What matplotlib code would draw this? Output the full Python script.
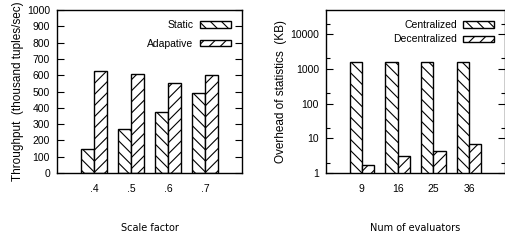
import numpy as np
import matplotlib
matplotlib.use('Agg')
import matplotlib.pyplot as plt
from matplotlib.ticker import LogLocator, NullFormatter, FixedLocator

plt.rcParams['hatch.linewidth'] = 0.8

# left chart: throughput vs scale factor
scale_labels = ['.4', '.5', '.6', '.7']
static_vals = [147, 268, 373, 490]
adaptive_vals = [626, 605, 552, 604]

# right chart: statistics overhead vs number of evaluators
eval_labels = ['9', '16', '25', '36']
central_vals = [1620, 1620, 1620, 1620]
decentral_vals = [1.65, 3.0, 4.2, 6.8]

tick_font = 'Liberation Sans'
w = 0.34
hatch_a = '\\' * 3
hatch_b = '/' * 3

fig = plt.figure(figsize=(5.06, 2.41), dpi=100)
ax1 = fig.add_axes([57/506, 68/241, 185/506, 163/241])
ax2 = fig.add_axes([326/506, 68/241, 179/506, 163/241])

x = np.arange(len(scale_labels))
ax1.bar(x - w/2, static_vals, w, color='white', edgecolor='black', hatch=hatch_a, linewidth=1, label='Static')
ax1.bar(x + w/2, adaptive_vals, w, color='white', edgecolor='black', hatch=hatch_b, linewidth=1, label='Adapative')
ax1.set_xlim(-1, 4)
ax1.set_ylim(0, 1000)
ax1.set_yticks(range(0, 1001, 100))
ax1.set_xticks(x)
ax1.set_xticklabels(scale_labels)
ax1.set_ylabel('Throughput  (thousand tuples/sec)', fontsize=8.5, family=tick_font, labelpad=2)
ax1.set_xlabel('Scale factor', fontsize=7, labelpad=21)
ax1.legend(loc='upper right', bbox_to_anchor=(0.975, 0.975), frameon=False, markerfirst=False,
           prop={'family': tick_font, 'size': 7.5}, handlelength=3.0, handleheight=0.6,
           labelspacing=0.8, handletextpad=0.6, borderaxespad=0.2)

x2 = np.arange(len(eval_labels))
ax2.bar(x2 - w/2, central_vals, w, color='white', edgecolor='black', hatch=hatch_a, linewidth=1, label='Centralized')
ax2.bar(x2 + w/2, decentral_vals, w, color='white', edgecolor='black', hatch=hatch_b, linewidth=1, label='Decentralized')
ax2.set_yscale('log')
ax2.set_xlim(-1, 4)
ax2.set_ylim(1, 50000)
ax2.yaxis.set_major_locator(FixedLocator([1, 10, 100, 1000, 10000]))
ax2.set_yticklabels(['1', '10', '100', '1000', '10000'])
ax2.yaxis.set_minor_locator(LogLocator(base=10, subs=(2.0,)))
ax2.yaxis.set_minor_formatter(NullFormatter())
ax2.set_xticks(x2)
ax2.set_xticklabels(eval_labels)
ax2.set_ylabel('Overhead of statistics  (KB)', fontsize=8.5, family=tick_font, labelpad=2)
ax2.set_xlabel('Num of evaluators', fontsize=7, labelpad=21)
ax2.legend(loc='upper right', bbox_to_anchor=(0.975, 0.975), frameon=False, markerfirst=False,
           prop={'family': tick_font, 'size': 7.5}, handlelength=3.0, handleheight=0.6,
           labelspacing=0.4, handletextpad=0.6, borderaxespad=0.2)

for ax in (ax1, ax2):
    for s in ax.spines.values():
        s.set_linewidth(1)
    ax.tick_params(axis='y', which='major', direction='in', length=5, width=0.8, left=True, right=True, pad=5,
                   labelsize=7.5)
    ax.tick_params(axis='y', which='minor', direction='in', length=3, width=0.8, left=True, right=True)
    ax.tick_params(axis='x', length=0, pad=8, labelsize=7.5)
    for lab in ax.get_xticklabels() + ax.get_yticklabels():
        lab.set_family(tick_font)

fig.savefig('out.png', dpi=100)
